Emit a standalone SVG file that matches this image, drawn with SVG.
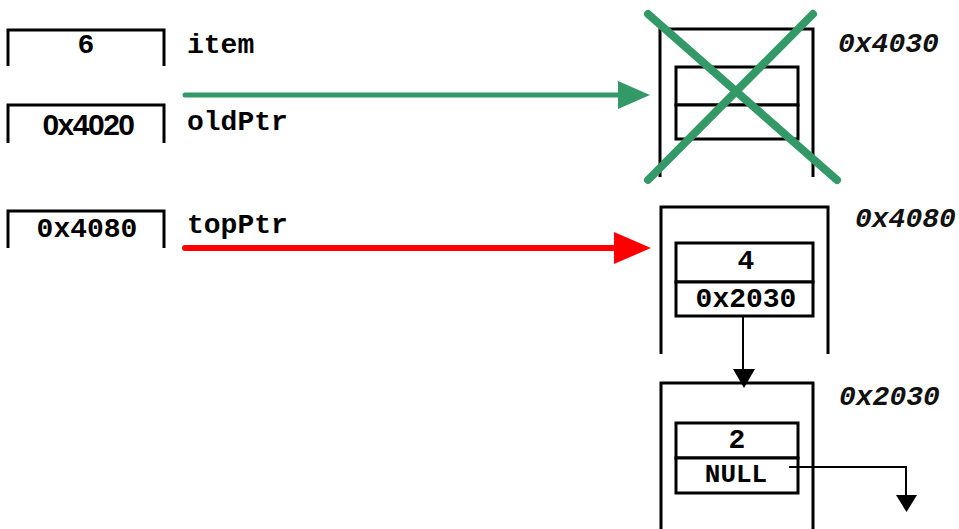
<svg xmlns="http://www.w3.org/2000/svg" width="959" height="529" viewBox="0 0 959 529">
  <defs>
    <style>
      .frame { fill: none; stroke: #000; stroke-width: 3; }
      .cell { fill: #fff; stroke: #000; stroke-width: 3; }
      .mono { font-family: "Liberation Mono", "Courier New", monospace; font-weight: bold; font-size: 28px; fill: #000; }
      .addr { font-family: "Liberation Mono", "Courier New", monospace; font-weight: bold; font-style: italic; font-size: 28px; fill: #111; }
      .sans { font-family: "Liberation Sans", Arial, sans-serif; font-weight: bold; font-size: 30px; fill: #000; letter-spacing: -1.5px; }
      .mid { text-anchor: middle; }
      .thin { fill: none; stroke: #000; stroke-width: 2; }
    </style>
  </defs>

  <!-- variables on the left -->
  <g id="var-item">
    <path class="frame" d="M8,66 V30 H164 V66"/>
    <text class="mono mid" x="86" y="53">6</text>
    <text class="mono" x="187" y="53">item</text>
  </g>
  <g id="var-oldPtr">
    <path class="frame" d="M8,143 V105 H164 V143"/>
    <text class="sans mid" x="88" y="135">0x4020</text>
    <text class="mono" x="187" y="130">oldPtr</text>
  </g>
  <g id="var-topPtr">
    <path class="frame" d="M8,248 V211 H164 V248"/>
    <text class="mono mid" x="87" y="237">0x4080</text>
    <text class="mono" x="187" y="233">topPtr</text>
  </g>

  <!-- deleted node at 0x4030 -->
  <g id="node-4030">
    <path class="frame" d="M660,177 V29 H813 V177"/>
    <rect class="cell" x="676" y="67" width="122" height="38"/>
    <rect class="cell" x="676" y="105" width="122" height="34"/>
    <text class="addr" x="838" y="52">0x4030</text>
    <g stroke="#339966" stroke-width="8" stroke-linecap="round">
      <line x1="648" y1="14" x2="837" y2="180"/>
      <line x1="813" y1="14" x2="648" y2="180"/>
    </g>
  </g>

  <!-- node at 0x4080 -->
  <g id="node-4080">
    <path class="frame" d="M661,354 V207 H828 V354"/>
    <rect class="cell" x="676" y="243" width="137" height="39"/>
    <rect class="cell" x="676" y="282" width="137" height="34"/>
    <text class="mono mid" x="746" y="269">4</text>
    <text class="mono mid" x="746" y="307">0x2030</text>
    <text class="addr" x="855" y="227">0x4080</text>
  </g>

  <!-- node at 0x2030 -->
  <g id="node-2030">
    <path class="frame" d="M661,529 V383 H813 V529"/>
    <rect class="cell" x="676" y="423" width="122" height="35"/>
    <rect class="cell" x="676" y="458" width="122" height="35"/>
    <text class="mono mid" x="737" y="448">2</text>
    <text class="mono mid" x="736" y="482" style="font-size:26px">NULL</text>
    <text class="addr" x="839" y="405">0x2030</text>
  </g>

  <!-- connectors -->
  <g id="connectors">
    <line x1="185" y1="95" x2="622" y2="95" stroke="#339966" stroke-width="5" stroke-linecap="round"/>
    <path d="M618,81 L650,95 L618,109 Z" fill="#339966"/>
    <line x1="185" y1="248" x2="618" y2="248" stroke="#ff0000" stroke-width="6" stroke-linecap="round"/>
    <path d="M614,232 L651,248 L614,264 Z" fill="#ff0000"/>
    <line class="thin" x1="743" y1="316" x2="743" y2="372"/>
    <path d="M733,369 L755,369 L744,388 Z" fill="#000"/>
    <polyline class="thin" points="789,467 906,467 906,497"/>
    <path d="M896,495 L917,495 L906.5,512 Z" fill="#000"/>
  </g>
</svg>
